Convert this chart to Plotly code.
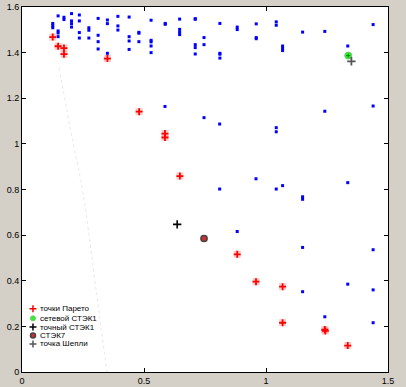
import plotly.graph_objects as go

# ---- data ----
blue_x = [0.126, 0.126, 0.126, 0.148, 0.148, 0.148, 0.148, 0.172, 0.172, 0.203, 0.203, 0.203, 0.203,
          0.235, 0.235, 0.235, 0.235, 0.274, 0.274, 0.274, 0.312, 0.312, 0.312, 0.312,
          0.350, 0.350, 0.350, 0.393, 0.393, 0.393, 0.439, 0.439, 0.439, 0.439,
          0.479, 0.479, 0.479, 0.529, 0.529, 0.529, 0.529, 0.529,
          0.587, 0.587, 0.646, 0.646, 0.646, 0.646, 0.710, 0.710, 0.710, 0.710, 0.710,
          0.746, 0.746, 0.811, 0.811, 0.811, 0.811, 0.882, 0.882,
          0.960, 0.960, 0.960, 1.042, 1.042, 1.068, 1.068, 1.068, 1.150, 1.241, 1.335, 1.439,
          0.586, 0.746, 0.810, 1.042, 1.042, 1.241, 1.439,
          0.810, 0.959, 1.042, 1.068, 1.150, 1.150, 1.335,
          0.882, 1.150, 1.439, 1.150, 1.335, 1.439, 1.241, 1.439]
blue_y = [1.528, 1.518, 1.509, 1.561, 1.495, 1.486, 1.470, 1.555, 1.545, 1.571, 1.539, 1.527, 1.512,
          1.565, 1.539, 1.488, 1.464, 1.509, 1.498, 1.464, 1.550, 1.476, 1.448, 1.416,
          1.543, 1.527, 1.397, 1.559, 1.517, 1.499, 1.556, 1.470, 1.451, 1.414,
          1.489, 1.485, 1.448, 1.542, 1.454, 1.447, 1.429, 1.400,
          1.528, 1.524, 1.547, 1.502, 1.490, 1.479, 1.549, 1.546, 1.435, 1.422, 1.394,
          1.466, 1.435, 1.528, 1.397, 1.393, 1.376, 1.512, 1.501,
          1.526, 1.466, 1.461, 1.535, 1.520, 1.429, 1.418, 1.409, 1.490, 1.493, 1.429, 1.523,
          1.164, 1.115, 1.087, 1.071, 1.053, 1.143, 1.166,
          0.802, 0.847, 0.802, 0.817, 0.768, 0.757, 0.830,
          0.616, 0.546, 0.536, 0.352, 0.385, 0.360, 0.242, 0.216]

pareto_x = [0.126, 0.148, 0.172, 0.172, 0.350, 0.480, 0.586, 0.586, 0.647, 0.746,
            0.882, 0.959, 1.068, 1.068, 1.241, 1.243, 1.335]
pareto_y = [1.468, 1.428, 1.420, 1.393, 1.374, 1.141, 1.045, 1.028, 0.859, 0.585,
            0.516, 0.396, 0.374, 0.216, 0.186, 0.180, 0.116]

net_x, net_y = [1.337], [1.387]        # сетевой СТЭК1
exact_x, exact_y = [0.636], [0.647]    # точный СТЭК1
stek7_x, stek7_y = [0.746], [0.585]    # СТЭК7
shap_x, shap_y = [1.350], [1.362]      # точка Шепли

curve_x = [0.152, 0.209, 0.250, 0.305, 0.348]
curve_y = [1.334, 1.005, 0.786, 0.347, 0.0]

legend_labels = ["точки Парето", "сетевой СТЭК1", "точный СТЭК1", "СТЭК7", "точка Шепли"]

x_ticks = [0, 0.5, 1, 1.5]
y_ticks = [0, 0.2, 0.4, 0.6, 0.8, 1, 1.2, 1.4, 1.6]

fig = go.Figure()

fig.add_trace(go.Scatter(x=curve_x, y=curve_y, mode="lines",
                         line=dict(color="#e8e8e8", width=1, dash="dot", shape="spline"),
                         hoverinfo="skip"))
fig.add_trace(go.Scatter(x=blue_x, y=blue_y, mode="markers",
                         marker=dict(symbol="square", size=3, color="#0000ff", line=dict(width=0))))
# Pareto halo + cross
fig.add_trace(go.Scatter(x=pareto_x, y=pareto_y, mode="markers",
                         marker=dict(symbol="square", size=7, color="rgba(255,150,150,0.5)", line=dict(width=0))))
fig.add_trace(go.Scatter(x=pareto_x, y=pareto_y, mode="markers",
                         marker=dict(symbol="cross-thin", size=5, color="#ff0000",
                                     line=dict(width=1.8, color="#ff0000"))))
fig.add_trace(go.Scatter(x=net_x, y=net_y, mode="markers",
                         marker=dict(symbol="circle", size=7, color="#33ee33", line=dict(width=1, color="#66cc66"))))
fig.add_trace(go.Scatter(x=net_x, y=net_y, mode="markers",
                         marker=dict(symbol="cross-thin", size=3, color="#118811", line=dict(width=1, color="#118811"))))
fig.add_trace(go.Scatter(x=exact_x, y=exact_y, mode="markers",
                         marker=dict(symbol="cross-thin", size=6, color="#000000", line=dict(width=1.6, color="#000000"))))
fig.add_trace(go.Scatter(x=stek7_x, y=stek7_y, mode="markers",
                         marker=dict(symbol="circle", size=6, color="#cc3030", line=dict(width=1.5, color="#444444"))))
fig.add_trace(go.Scatter(x=shap_x, y=shap_y, mode="markers",
                         marker=dict(symbol="cross-thin", size=6, color="#555555", line=dict(width=1.8, color="#555555"))))

# ---- manual legend on a hidden overlay axis (paper-like 0..1) ----
leg_y = [0.173, 0.147, 0.123, 0.100, 0.077]
leg_mx = 0.030
leg_styles = [
    dict(symbol="cross-thin", size=5, color="#ff0000", line=dict(width=1.5, color="#ff0000")),
    dict(symbol="circle", size=5, color="#33ee33", line=dict(width=1, color="#66cc66")),
    dict(symbol="cross-thin", size=5, color="#000000", line=dict(width=1.5, color="#000000")),
    dict(symbol="circle", size=5, color="#cc3030", line=dict(width=1.5, color="#444444")),
    dict(symbol="cross-thin", size=5, color="#555555", line=dict(width=1.5, color="#555555")),
]
for yy, st in zip(leg_y, leg_styles):
    fig.add_trace(go.Scatter(x=[leg_mx], y=[yy], mode="markers", marker=st,
                             xaxis="x2", yaxis="y2", hoverinfo="skip"))
for yy, lab in zip(leg_y, legend_labels):
    fig.add_annotation(x=0.044, y=yy, xref="paper", yref="paper", text=lab, showarrow=False,
                       xanchor="left", yanchor="middle",
                       font=dict(family="Liberation Sans, Arial, sans-serif", size=8, color="#000000"))

axis_common = dict(showgrid=False, zeroline=False, showline=True, linecolor="#000000", linewidth=1,
                   mirror="ticks", ticks="inside", ticklen=4, tickcolor="#000000",
                   tickfont=dict(family="Liberation Sans, Arial, sans-serif", size=9, color="#000000"))

fig.update_layout(
    width=406, height=387,
    margin=dict(l=22, r=18, t=7, b=15, autoexpand=False),
    paper_bgcolor="#d4d0c8", plot_bgcolor="#ffffff",
    showlegend=False,
    xaxis=dict(range=[0, 1.5], tickvals=x_ticks, ticktext=["0", "0.5", "1", "1.5"], **axis_common),
    yaxis=dict(range=[0, 1.6], tickvals=y_ticks,
               ticktext=["0", "0.2", "0.4", "0.6", "0.8", "1", "1.2", "1.4", "1.6"], **axis_common),
    xaxis2=dict(range=[0, 1], overlaying="x", visible=False, anchor="y2"),
    yaxis2=dict(range=[0, 1], overlaying="y", visible=False, anchor="x2"),
)

fig.write_html("out.html", config={"displayModeBar": False},
               post_script="document.body.style.margin='0';document.body.style.padding='0';"
                           "document.documentElement.style.overflow='hidden';")
